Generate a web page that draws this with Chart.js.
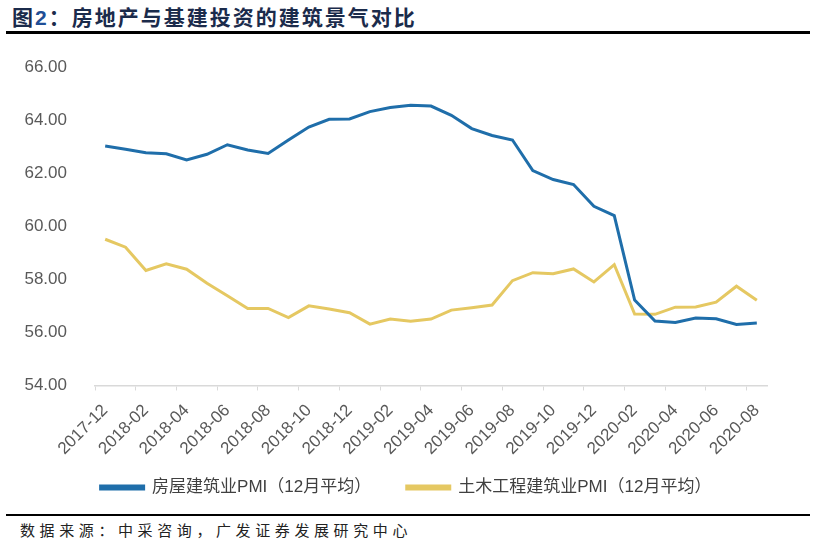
<!DOCTYPE html>
<html>
<head>
<meta charset="utf-8">
<script src="https://cdn.jsdelivr.net/npm/chart.js@4/dist/chart.umd.min.js"></script>
<style>
    body { margin: 0; width: 816px; height: 550px; background: #fff; position: relative; overflow: hidden; }
    #title {
        position: absolute; left: 12px; top: 1px;
        font: bold 21px "Noto Sans CJK SC", sans-serif; letter-spacing: 2px;
        color: #1b2b4b;
    }
    #title .num { color: #1f4e96; font-family: "Liberation Sans", Arial, sans-serif; }
    .rule { position: absolute; left: 6px; width: 804px; background: #000; }
    #box { position: absolute; left: 0; top: 36px; width: 816px; height: 474px; }
    #source {
        position: absolute; left: 20px; top: 519px;
        font: 15px "Noto Sans CJK SC", sans-serif; letter-spacing: 4.6px; color: #222;
    }
</style>
</head>
<body>
<div id="title">图<span class="num">2</span>：房地产与基建投资的建筑景气对比</div>
<div class="rule" style="top:31px;height:3px"></div>
<div id="box"><canvas id="chart"></canvas></div>
<div class="rule" style="top:514px;height:2px"></div>
<div id="source">数据来源：中采咨询，广发证券发展研究中心</div>

<script>
// 月份 2017-12 ~ 2020-08
const months = [
    "2017-12", "2018-01", "2018-02", "2018-03", "2018-04", "2018-05", "2018-06", "2018-07", "2018-08",
    "2018-09", "2018-10", "2018-11", "2018-12", "2019-01", "2019-02", "2019-03", "2019-04", "2019-05",
    "2019-06", "2019-07", "2019-08", "2019-09", "2019-10", "2019-11", "2019-12", "2020-01", "2020-02",
    "2020-03", "2020-04", "2020-05", "2020-06", "2020-07", "2020-08"
];

// 房屋建筑业PMI（12月平均）
const housingPMI = [
    63.02, 62.90, 62.77, 62.73, 62.50, 62.71, 63.07, 62.87, 62.74,
    63.25, 63.74, 64.03, 64.04, 64.32, 64.47, 64.56, 64.53, 64.18,
    63.68, 63.42, 63.25, 62.10, 61.76, 61.57, 60.75, 60.40, 57.22,
    56.43, 56.37, 56.54, 56.51, 56.30, 56.35
];

// 土木工程建筑业PMI（12月平均）
const civilPMI = [
    59.51, 59.21, 58.33, 58.58, 58.38, 57.85, 57.38, 56.90, 56.90,
    56.56, 57.00, 56.88, 56.74, 56.31, 56.50, 56.42, 56.50, 56.84,
    56.93, 57.03, 57.95, 58.25, 58.21, 58.39, 57.90, 58.55, 56.69,
    56.68, 56.95, 56.96, 57.14, 57.74, 57.21
];

const yTicks = [54, 56, 58, 60, 62, 64, 66];

const seriesNames = ["房屋建筑业PMI（12月平均）", "土木工程建筑业PMI（12月平均）"];
const seriesColors = ["#1f6eaa", "#e5c862"];

const axisFont = { family: "'Liberation Sans', Arial, sans-serif", size: 17 };

// 图例在整幅宽度内居中（不受右侧留白影响）
const centerLegend = {
    id: "centerLegend",
    afterLayout(chart) {
        const shift = chart.options.layout.padding.right / 2 - 2;
        chart.legend.left += shift;
        chart.legend.right += shift;
    }
};

const ctx = document.getElementById("chart").getContext("2d");
const chart = new Chart(ctx, {
    type: "line",
    data: {
        labels: months,
        datasets: [
            { label: seriesNames[0], data: housingPMI },
            { label: seriesNames[1], data: civilPMI }
        ].map((ds, i) => ({
            ...ds,
            borderColor: seriesColors[i],
            backgroundColor: seriesColors[i],
            borderWidth: 3,
            pointRadius: 0,
            tension: 0,
            fill: false
        }))
    },
    options: {
        responsive: true,
        maintainAspectRatio: false,
        animation: false,
        layout: { padding: { top: 31, right: 49, left: 0, bottom: 4 } },
        plugins: {
            legend: {
                position: "bottom",
                labels: {
                    boxWidth: 43,
                    boxHeight: 3,
                    padding: 10,
                    color: "#404040",
                    font: { family: "'Liberation Sans', 'Noto Sans CJK SC', sans-serif", size: 17 },
                    // 图例项之间留出较宽的间隔
                    generateLabels: (c) => {
                        const items = Chart.defaults.plugins.legend.labels.generateLabels(c);
                        items[0].text += "\u3000\u3000";
                        return items;
                    }
                }
            },
            tooltip: { enabled: false }
        },
        scales: {
            x: {
                offset: true,
                grid: {
                    offset: true,
                    drawOnChartArea: false,
                    tickLength: 5,
                    color: (c) => (c.index % 2 === 0 ? "#d9d9d9" : "rgba(0,0,0,0)")
                },
                border: { color: "#d9d9d9", width: 1.5 },
                ticks: {
                    autoSkip: false,
                    minRotation: 45,
                    maxRotation: 45,
                    padding: 10,
                    color: "#595959",
                    font: axisFont,
                    callback: function (value, index) {
                        return index % 2 === 0 ? this.getLabelForValue(value) : "";
                    }
                }
            },
            y: {
                min: yTicks[0],
                max: yTicks[yTicks.length - 1],
                afterBuildTicks: (scale) => { scale.ticks = yTicks.map((v) => ({ value: v })); },
                afterFit: (scale) => { scale.width = 95; },
                grid: { display: false },
                border: { display: false },
                ticks: {
                    padding: 20,
                    color: "#595959",
                    font: axisFont,
                    callback: (v) => v.toFixed(2)
                }
            }
        }
    },
    plugins: [centerLegend]
});
</script>
</body>
</html>
